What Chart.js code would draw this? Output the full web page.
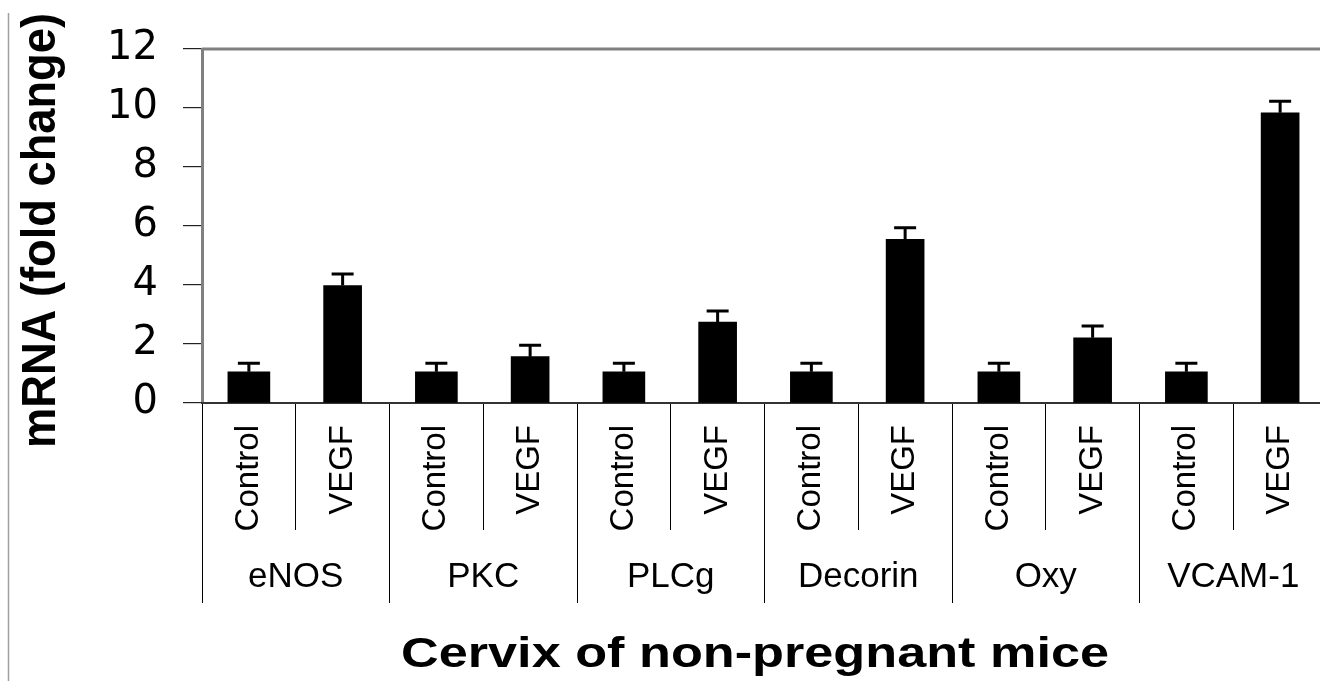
<!DOCTYPE html>
<html>
<head>
<meta charset="utf-8">
<script src="https://cdn.jsdelivr.net/npm/chart.js@4.4.1/dist/chart.umd.min.js"></script>
<style>
  html, body { margin: 0; padding: 0; background: #ffffff; overflow: hidden; }
  #wrap { width: 1328px; height: 681px; }
</style>
</head>
<body>
<div id="wrap"><canvas id="c" width="1328" height="681"></canvas></div>
<script>
// ---- data ----
const groups = ['eNOS', 'PKC', 'PLCg', 'Decorin', 'Oxy', 'VCAM-1'];
const conditions = ['Control', 'VEGF'];
const controlMeans = [1.06, 1.06, 1.06, 1.06, 1.06, 1.06];
const controlErrors = [0.29, 0.29, 0.29, 0.29, 0.29, 0.29];
const vegfMeans = [3.98, 1.57, 2.74, 5.55, 2.21, 9.84];
const vegfErrors = [0.39, 0.39, 0.38, 0.39, 0.40, 0.39];
const yTickValues = [0, 2, 4, 6, 8, 10, 12];
const yTitle = 'mRNA (fold change)';
const xTitle = 'Cervix of non-pregnant mice';

// ---- build chart tables ----
const subLabels = [];
const ctrlData = [], ctrlErr = [], vegfData = [], vegfErr = [];
groups.forEach((g, i) => {
  subLabels.push(conditions[0], conditions[1]);
  ctrlData.push(controlMeans[i], null);
  ctrlErr.push(controlErrors[i], null);
  vegfData.push(null, vegfMeans[i]);
  vegfErr.push(null, vegfErrors[i]);
});

const decor = {
  id: 'decor',
  beforeDraw(chart) {
    const ctx = chart.ctx;
    ctx.save();
    ctx.strokeStyle = '#a0a0a0';
    ctx.lineWidth = 1.5;
    ctx.beginPath();
    ctx.moveTo(8.5, 13);
    ctx.lineTo(8.5, 681);
    ctx.stroke();
    ctx.restore();
  },
  afterDatasetsDraw(chart) {
    const ctx = chart.ctx;
    const y = chart.scales.y;
    ctx.save();
    ctx.strokeStyle = '#000';
    ctx.lineWidth = 3;
    chart.data.datasets.forEach((ds, di) => {
      const meta = chart.getDatasetMeta(di);
      ds.data.forEach((v, i) => {
        if (v == null) return;
        const bar = meta.data[i];
        const top = y.getPixelForValue(v + ds.errors[i]);
        ctx.beginPath();
        ctx.moveTo(bar.x, bar.y);
        ctx.lineTo(bar.x, top);
        ctx.moveTo(bar.x - 11, top);
        ctx.lineTo(bar.x + 11, top);
        ctx.stroke();
      });
    });
    ctx.restore();
  },
  afterDraw(chart) {
    const ctx = chart.ctx;
    const a = chart.chartArea;
    ctx.save();
    // top frame line
    ctx.strokeStyle = '#808080';
    ctx.lineWidth = 3;
    ctx.beginPath();
    ctx.moveTo(a.left, a.top);
    ctx.lineTo(a.right, a.top);
    ctx.stroke();
    // x title
    ctx.fillStyle = '#000';
    ctx.font = 'bold 42px "Liberation Sans", Arial, sans-serif';
    ctx.textAlign = 'center';
    ctx.textBaseline = 'alphabetic';
    let w = ctx.measureText(xTitle).width;
    ctx.save();
    ctx.translate(755, 667);
    ctx.scale(708 / w, 1);
    ctx.fillText(xTitle, 0, 0);
    ctx.restore();
    // y title
    ctx.font = 'bold 49px "Liberation Sans", Arial, sans-serif';
    w = ctx.measureText(yTitle).width;
    ctx.save();
    ctx.translate(55, 230.5);
    ctx.rotate(-Math.PI / 2);
    ctx.scale(435 / w, 1);
    ctx.fillText(yTitle, 0, 0);
    ctx.restore();
    ctx.restore();
  }
};

new Chart(document.getElementById('c'), {
  type: 'bar',
  data: {
    labels: subLabels,
    datasets: [
      { label: 'Control', data: ctrlData, errors: ctrlErr, backgroundColor: '#000', borderWidth: 0, barThickness: 42, grouped: false },
      { label: 'VEGF', data: vegfData, errors: vegfErr, backgroundColor: '#000', borderWidth: 0, barThickness: 38, grouped: false }
    ]
  },
  options: {
    responsive: false,
    animation: false,
    devicePixelRatio: 1,
    layout: { padding: { top: 49, left: 0, right: 1, bottom: 0 } },
    plugins: { legend: { display: false }, tooltip: { enabled: false }, title: { display: false } },
    scales: {
      y: {
        min: 0, max: 12,
        afterFit: s => { s.width = 202; },
        afterBuildTicks: s => { s.ticks = yTickValues.map(v => ({ value: v })); },
        grid: { drawOnChartArea: false, tickLength: 19, color: '#222', lineWidth: 1.2 },
        border: { display: true, color: '#808080', width: 3 },
        ticks: { color: '#000', padding: 25, font: { family: '"DejaVu Sans", sans-serif', size: 40 } }
      },
      x: {
        weight: 0,
        afterFit: s => { s.height = 127; },
        offset: true,
        grid: { offset: true, drawOnChartArea: false, tickLength: 127, color: '#000', lineWidth: 1 },
        border: { display: true, color: '#333', width: 2 },
        ticks: { autoSkip: false, maxRotation: 90, minRotation: 90, padding: -105, color: '#000',
                 font: { family: '"Liberation Sans", Arial, sans-serif', size: 33 } }
      },
      xg: {
        type: 'category',
        position: 'bottom',
        weight: 1,
        labels: groups,
        afterFit: s => { s.height = 151; },
        offset: true,
        grid: { offset: true, drawOnChartArea: false, tickLength: 73, color: '#000', lineWidth: 1 },
        border: { display: false },
        ticks: { autoSkip: false, maxRotation: 0, minRotation: 0, padding: -47, color: '#000',
                 font: { family: '"Liberation Sans", Arial, sans-serif', size: 35 } }
      }
    }
  },
  plugins: [decor]
});
</script>
</body>
</html>
